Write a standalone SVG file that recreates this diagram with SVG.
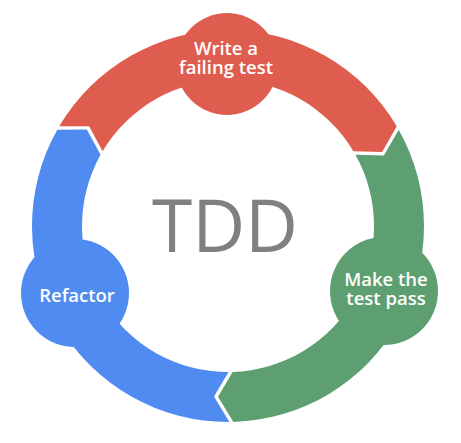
<svg xmlns="http://www.w3.org/2000/svg" width="461" height="443" viewBox="0 0 461 443">
  <style>
    .lbl { font-family: "Open Sans", "Noto Sans", "DejaVu Sans", sans-serif; font-size: 18.5px; font-weight: 600; fill: #ffffff; text-anchor: middle; }
    .title { font-family: "Open Sans", "Noto Sans", "DejaVu Sans", sans-serif; font-size: 73px; fill: #808080; text-anchor: middle; }
    .red { fill: #DF5D4E; }
    .green { fill: #5E9F71; }
    .blue { fill: #4F8BF1; }
  </style>
  <rect width="461" height="443" fill="#ffffff"/>
  <g id="connectors">
    <path class="red" d="M59.27,126.27 A196,196 0 0 1 396.73,126.27 L382.16,152.00 L353.43,151.27 A146,146 0 0 0 102.57,151.27 L89.13,126.22 Z"/>
    <path class="green" d="M398.73,129.74 A196,196 0 0 1 233.42,421.93 L217.99,396.71 L232.55,371.93 A146,146 0 0 0 355.43,154.74 L383.85,155.62 Z"/>
    <path class="blue" d="M229.42,421.99 A196,196 0 0 1 57.27,129.74 L86.83,129.50 L100.57,154.74 A146,146 0 0 0 228.55,372.00 L214.00,396.43 Z"/>
  </g>
  <g id="node-write">
    <circle class="red" cx="227" cy="64" r="51"/>
    <text class="lbl"><tspan x="226" y="54.5">Write a</tspan><tspan x="226" y="74">failing test</tspan></text>
  </g>
  <g id="node-pass">
    <circle class="green" cx="384" cy="291" r="54"/>
    <text class="lbl"><tspan x="386" y="285.5">Make the</tspan><tspan x="386" y="305">test pass</tspan></text>
  </g>
  <g id="node-refactor">
    <circle class="blue" cx="75" cy="293" r="54"/>
    <text class="lbl" x="77" y="302">Refactor</text>
  </g>
  <g id="node-tdd">
    <text class="title" x="225" y="252">TDD</text>
  </g>
</svg>
